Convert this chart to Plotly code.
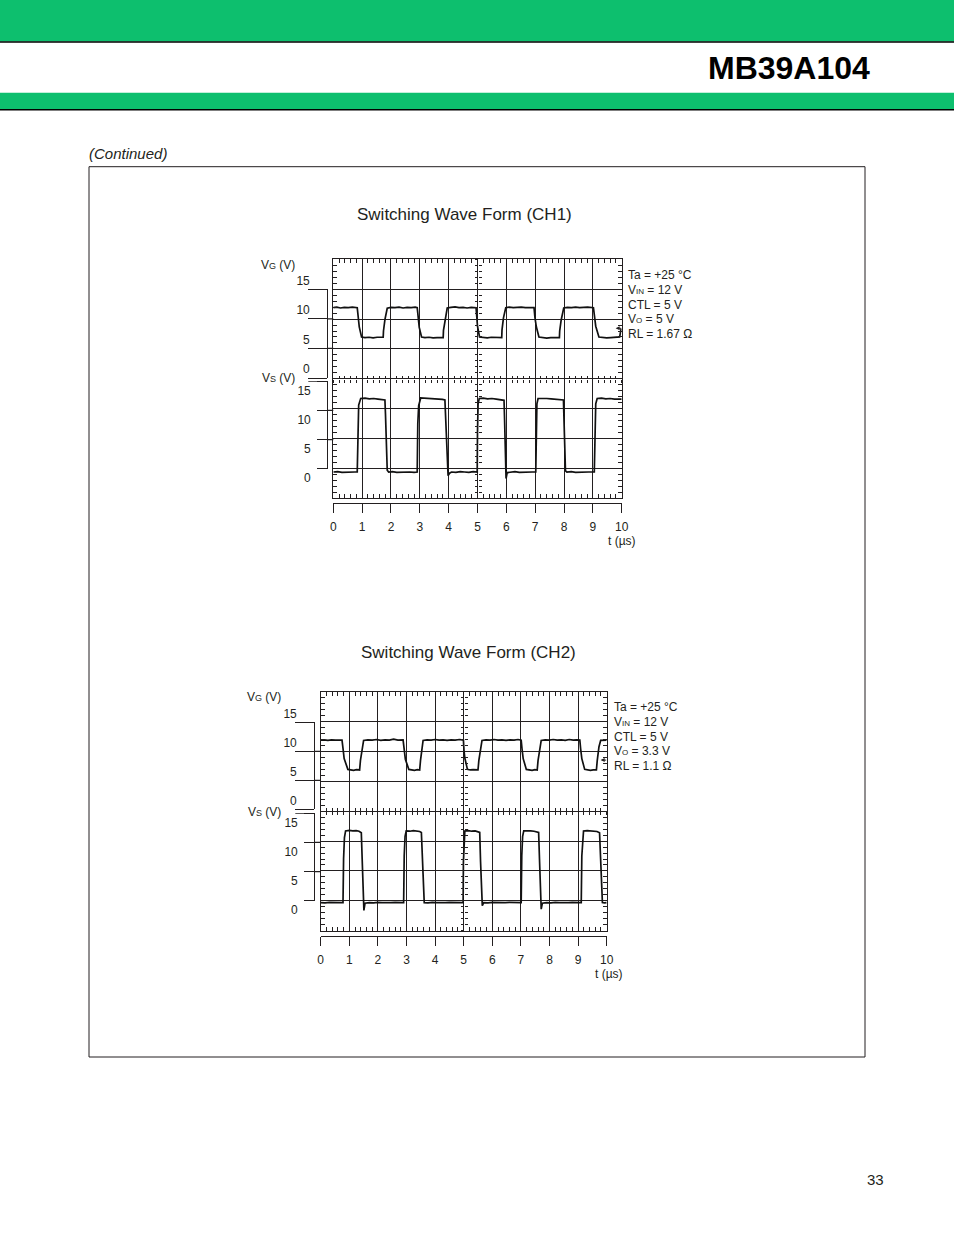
import plotly.graph_objects as go

W, H = 954, 1235
def X(px): return px / W
def Y(py): return 1 - py / H

FONT = "Liberation Sans, Arial, Helvetica, sans-serif"
INK = "#231f20"
GREEN = "#0dbf6e"

# ---------------- data ----------------
t_ticks = list(range(0, 11))
t_labels = [str(v) for v in t_ticks]
v_ticks = [0, 5, 10, 15]
v_labels = ["0", "5", "10", "15"]

vg_ch1 = [
 (0.00, 11.90), (0.12, 12.00), (0.25, 11.85), (0.38, 11.95), (0.52, 11.90), (0.66, 12.00), (0.83, 11.90),
 (0.86, 10.40), (0.90, 8.70), (0.98, 7.00), (1.10, 6.90), (1.24, 6.95), (1.38, 6.85), (1.52, 6.95), (1.66, 6.90), (1.73, 6.95),
 (1.74, 8.00), (1.79, 9.90), (1.87, 11.80), (2.00, 11.95), (2.14, 11.90), (2.28, 12.00), (2.42, 11.85), (2.56, 11.95), (2.70, 11.90), (2.84, 12.00), (2.91, 11.90),
 (2.94, 10.40), (2.98, 8.60), (3.06, 7.00), (3.18, 6.90), (3.32, 6.95), (3.46, 6.85), (3.60, 6.90), (3.74, 6.95), (3.81, 6.90),
 (3.82, 8.10), (3.87, 9.90), (3.95, 11.85), (4.08, 11.95), (4.22, 12.05), (4.36, 11.90), (4.50, 11.95), (4.64, 11.85), (4.78, 11.95), (4.95, 11.90),
 (4.97, 10.00), (5.00, 8.80), (5.07, 7.00), (5.20, 6.90), (5.34, 6.85), (5.48, 6.95), (5.62, 6.90), (5.76, 6.85), (5.84, 6.90),
 (5.85, 8.20), (5.90, 10.20), (5.98, 11.90), (6.10, 12.00), (6.24, 11.90), (6.38, 11.95), (6.52, 12.00), (6.66, 11.90), (6.80, 11.95), (6.96, 11.90),
 (6.99, 10.30), (7.04, 8.70), (7.13, 7.00), (7.26, 6.90), (7.40, 6.80), (7.54, 6.90), (7.68, 6.85), (7.84, 6.90),
 (7.85, 8.00), (7.90, 9.80), (7.99, 11.85), (8.12, 11.95), (8.26, 11.90), (8.40, 12.00), (8.54, 11.90), (8.68, 11.95), (8.82, 12.00), (9.02, 11.90),
 (9.05, 10.50), (9.10, 8.80), (9.21, 7.00), (9.34, 6.90), (9.48, 6.85), (9.62, 6.90), (9.76, 6.95), (9.90, 6.90),
 (9.93, 7.00), (9.98, 8.40),
]

vs_ch1 = [
 (0.00, -0.60), (0.15, -0.55), (0.30, -0.65), (0.45, -0.60), (0.60, -0.55), (0.75, -0.60), (0.83, -0.60),
 (0.86, 8.00), (0.88, 10.60), (0.95, 11.70), (1.10, 11.75), (1.25, 11.65), (1.40, 11.70), (1.55, 11.60), (1.70, 11.55), (1.79, 11.45),
 (1.81, 9.00), (1.84, 2.00), (1.87, -0.30), (1.92, -0.60), (2.05, -0.55), (2.20, -0.65), (2.35, -0.60), (2.50, -0.55), (2.65, -0.60), (2.80, -0.65), (2.91, -0.60),
 (2.93, 7.50), (2.96, 10.50), (3.03, 11.80), (3.18, 11.75), (3.33, 11.70), (3.48, 11.75), (3.63, 11.60), (3.78, 11.55), (3.87, 11.45),
 (3.90, 8.50), (3.95, 1.50), (3.98, -1.20), (4.03, -0.80), (4.10, -0.60), (4.25, -0.65), (4.40, -0.55), (4.55, -0.60), (4.70, -0.65), (4.85, -0.55), (4.99, -0.60),
 (5.00, 6.00), (5.02, 10.80), (5.06, 11.70), (5.20, 11.75), (5.35, 11.65), (5.50, 11.70), (5.65, 11.60), (5.80, 11.55), (5.92, 11.40),
 (5.94, 8.00), (5.97, 2.00), (5.99, -1.70), (6.03, -0.70), (6.15, -0.60), (6.30, -0.55), (6.45, -0.65), (6.60, -0.60), (6.75, -0.55), (6.90, -0.60), (7.02, -0.60),
 (7.04, 8.00), (7.06, 10.80), (7.10, 11.70), (7.25, 11.75), (7.40, 11.70), (7.55, 11.65), (7.70, 11.60), (7.85, 11.55), (7.98, 11.45),
 (8.00, 8.00), (8.03, 1.50), (8.05, -0.40), (8.10, -0.60), (8.25, -0.55), (8.40, -0.65), (8.55, -0.60), (8.70, -0.55), (8.85, -0.60), (9.05, -0.60),
 (9.07, 7.50), (9.10, 10.80), (9.15, 11.70), (9.30, 11.75), (9.45, 11.65), (9.60, 11.70), (9.75, 11.60), (9.90, 11.65), (10.00, 11.60),
]

vg_ch2 = [
 (0.00, 11.90), (0.12, 11.95), (0.25, 11.85), (0.38, 11.95), (0.52, 11.90), (0.65, 11.95), (0.745, 11.90),
 (0.78, 10.50), (0.82, 8.80), (0.95, 7.00), (1.05, 6.90), (1.15, 6.85), (1.25, 6.95), (1.36, 6.90),
 (1.39, 8.50), (1.45, 10.80), (1.50, 11.85), (1.65, 11.95), (1.80, 11.90), (1.95, 12.00), (2.10, 11.85), (2.25, 11.95), (2.40, 11.90), (2.55, 12.05), (2.70, 11.90), (2.88, 11.95),
 (2.92, 10.40), (2.96, 8.70), (3.08, 7.00), (3.18, 6.90), (3.28, 6.85), (3.38, 6.95), (3.46, 6.90),
 (3.49, 8.50), (3.54, 10.80), (3.58, 11.85), (3.72, 11.95), (3.86, 11.90), (4.00, 12.00), (4.14, 11.90), (4.28, 11.95), (4.42, 11.85), (4.56, 11.95), (4.70, 11.90), (4.85, 12.00), (4.99, 11.90),
 (5.01, 10.20), (5.04, 8.90), (5.13, 7.00), (5.23, 6.90), (5.33, 6.95), (5.43, 6.85), (5.50, 6.90),
 (5.53, 8.50), (5.59, 10.80), (5.64, 11.85), (5.78, 11.95), (5.92, 11.90), (6.06, 12.00), (6.20, 11.90), (6.34, 11.95), (6.48, 11.85), (6.62, 11.95), (6.76, 11.90), (6.90, 12.00), (7.01, 11.90),
 (7.04, 10.40), (7.08, 8.80), (7.19, 7.00), (7.29, 6.90), (7.39, 6.85), (7.49, 6.95), (7.57, 6.90),
 (7.60, 8.50), (7.66, 10.80), (7.71, 11.85), (7.85, 11.95), (7.99, 11.90), (8.13, 12.00), (8.27, 11.90), (8.41, 11.95), (8.55, 11.85), (8.69, 12.00), (8.83, 11.90), (8.95, 11.95), (9.06, 11.90),
 (9.09, 10.40), (9.13, 8.80), (9.23, 7.00), (9.33, 6.90), (9.43, 6.85), (9.53, 6.90), (9.64, 6.90),
 (9.67, 8.50), (9.73, 10.80), (9.79, 11.85), (9.90, 11.90), (10.00, 11.90),
]

vs_ch2 = [
 (0.00, -0.30), (0.15, -0.35), (0.30, -0.25), (0.45, -0.30), (0.60, -0.35), (0.78, -0.30),
 (0.80, 7.00), (0.83, 10.60), (0.87, 11.70), (1.00, 11.80), (1.12, 11.70), (1.24, 11.75), (1.34, 11.65), (1.42, 11.40),
 (1.45, 7.00), (1.49, 1.00), (1.51, -1.60), (1.55, -0.40), (1.70, -0.30), (1.85, -0.35), (2.00, -0.25), (2.15, -0.30), (2.30, -0.35), (2.45, -0.30), (2.60, -0.25), (2.75, -0.30), (2.90, -0.30),
 (2.92, 7.50), (2.95, 10.80), (2.99, 11.70), (3.12, 11.65), (3.24, 11.75), (3.36, 11.70), (3.46, 11.60), (3.52, 11.45),
 (3.56, 6.00), (3.60, 0.50), (3.62, -0.30), (3.75, -0.35), (3.90, -0.25), (4.05, -0.30), (4.20, -0.35), (4.35, -0.30), (4.50, -0.25), (4.65, -0.30), (4.80, -0.35), (4.98, -0.30),
 (4.99, 6.50), (5.01, 10.80), (5.04, 11.70), (5.16, 11.75), (5.28, 11.65), (5.40, 11.70), (5.50, 11.60), (5.56, 11.45),
 (5.59, 6.50), (5.63, 0.50), (5.65, -0.80), (5.70, -0.30), (5.85, -0.35), (6.00, -0.25), (6.15, -0.30), (6.30, -0.35), (6.45, -0.30), (6.60, -0.25), (6.75, -0.30), (6.90, -0.35), (7.01, -0.30),
 (7.03, 7.50), (7.06, 10.80), (7.10, 11.70), (7.22, 11.75), (7.34, 11.70), (7.46, 11.65), (7.55, 11.60), (7.62, 11.45),
 (7.65, 7.00), (7.69, 1.00), (7.71, -1.40), (7.75, -0.40), (7.90, -0.30), (8.05, -0.35), (8.20, -0.25), (8.35, -0.30), (8.50, -0.35), (8.65, -0.30), (8.80, -0.25), (8.95, -0.30), (9.11, -0.30),
 (9.13, 7.50), (9.16, 10.80), (9.19, 11.70), (9.32, 11.75), (9.44, 11.70), (9.56, 11.75), (9.66, 11.60), (9.75, 11.40),
 (9.78, 7.00), (9.82, 1.00), (9.85, -0.30), (9.92, -0.35), (10.00, -0.30),
]

SM = "<span style='font-size:8px'>%s</span>"
cond_ch1 = ["Ta = +25 °C", "V" + SM % "IN" + " = 12 V", "CTL = 5 V", "V" + SM % "O" + " = 5 V", "RL = 1.67 Ω"]
cond_ch2 = ["Ta = +25 °C", "V" + SM % "IN" + " = 12 V", "CTL = 5 V", "V" + SM % "O" + " = 3.3 V", "RL = 1.1 Ω"]
titles = ["Switching Wave Form (CH1)", "Switching Wave Form (CH2)"]
ground_marker_vg = [8.45, 8.55]

# ---------------- layout geometry (pixels) ----------------
charts = [
    dict(vg=vg_ch1, vs=vs_ch1, cond=cond_ch1, title=titles[0], gm=ground_marker_vg[0],
         L=333.3, R=621.7, T=259.3, B=498.3, br=327.3,
         vg_top=289.3, vg_bot=378.0, vs_top=381.3, vs_bot=468.7, xax=503.3,
         cond_x=626, cond_y=275, title_x=464, title_y=215,
         vgt=(297, 265), vst=(297, 378), tunit=(622, 541)),
    dict(vg=vg_ch2, vs=vs_ch2, cond=cond_ch2, title=titles[1], gm=ground_marker_vg[1],
         L=320.7, R=606.7, T=691.7, B=930.7, br=314.3,
         vg_top=722.3, vg_bot=809.3, vs_top=813.3, vs_bot=900.7, xax=936.0,
         cond_x=612, cond_y=707, title_x=468, title_y=652,
         vgt=(283, 697), vst=(283, 811.7), tunit=(609, 974)),
]

fig = go.Figure()
layout = {}
shapes = []
annotations = []

def axname(kind, n):
    return f"{kind}axis" if n == 1 else f"{kind}axis{n}"

def axref(kind, n):
    return kind if n == 1 else f"{kind}{n}"

def dummy(xr, yr):
    fig.add_trace(go.Scatter(x=[None], y=[None], xaxis=xr, yaxis=yr, mode="lines",
                             showlegend=False, hoverinfo="skip"))

TF = dict(family=FONT, size=12, color=INK)

for i, c in enumerate(charts):
    xm, xb, xc1, xc2, xd = [5 * i + k for k in range(1, 6)]
    yg, ys, yc1, yc2, ybg, ybs = [6 * i + k for k in range(1, 7)]
    L, R, T, B = c["L"], c["R"], c["T"], c["B"]
    cx, cy = (L + R) / 2, (T + B) / 2

    layout[axname("x", xm)] = dict(domain=[X(L), X(R)], range=[0, 10], anchor=axref("y", yg),
        showline=True, mirror="ticks", linecolor=INK, linewidth=1.3,
        ticks="inside", ticklen=4, tickwidth=1, tickcolor=INK, dtick=1, tick0=0,
        showgrid=True, gridcolor=INK, gridwidth=1.2, showticklabels=False, zeroline=False,
        minor=dict(ticks="inside", ticklen=4, tickwidth=1, tickcolor=INK, dtick=0.2, tick0=0, showgrid=False),
        automargin=False, fixedrange=True)
    layout[axname("y", yg)] = dict(domain=[Y(B), Y(T)], range=[-20, 20], anchor=axref("x", xm),
        showline=True, mirror="ticks", linecolor=INK, linewidth=1.3,
        ticks="inside", ticklen=4, tickwidth=1, tickcolor=INK, dtick=5, tick0=0,
        showgrid=True, gridcolor=INK, gridwidth=1.2, showticklabels=False, zeroline=False,
        minor=dict(ticks="inside", ticklen=4, tickwidth=1, tickcolor=INK, dtick=1, tick0=0, showgrid=False),
        automargin=False, fixedrange=True)
    layout[axname("y", ys)] = dict(overlaying=axref("y", yg), range=[-5, 35], visible=False,
                                   automargin=False, fixedrange=True)

    # labelled time axis below the screen
    layout[axname("x", xb)] = dict(overlaying=axref("x", xm), anchor="free", position=Y(c["xax"]),
        range=[0, 10], showline=True, linecolor=INK, linewidth=1.2,
        ticks="outside", ticklen=9, tickwidth=1.2, tickcolor=INK,
        tickvals=t_ticks, ticktext=t_labels, tickfont=TF, ticklabelstandoff=3,
        showgrid=False, zeroline=False, automargin=False, fixedrange=True)
    dummy(axref("x", xb), axref("y", yg))
    # centre graticule ticks (horizontal)
    for n, tk in ((xc1, "outside"), (xc2, "inside")):
        layout[axname("x", n)] = dict(overlaying=axref("x", xm), anchor="free", position=Y(cy),
            range=[0, 10], showline=False, ticks=tk, ticklen=3, tickwidth=1, tickcolor=INK,
            dtick=0.2, tick0=0, showticklabels=False, showgrid=False, zeroline=False,
            automargin=False, fixedrange=True)
        dummy(axref("x", n), axref("y", yg))
    # centre graticule ticks (vertical)
    for n, tk in ((yc1, "outside"), (yc2, "inside")):
        layout[axname("y", n)] = dict(overlaying=axref("y", yg), anchor="free", position=X(cx),
            range=[-20, 20], showline=False, ticks=tk, ticklen=3, tickwidth=1, tickcolor=INK,
            dtick=1, tick0=0, showticklabels=False, showgrid=False, zeroline=False,
            automargin=False, fixedrange=True)
        dummy(axref("x", xm), axref("y", n))

    # bracket scales on the left
    layout[axname("x", xd)] = dict(domain=[X(L), X(R)], range=[0, 1], visible=False,
                                   anchor=axref("y", ybg), automargin=False, fixedrange=True)
    layout[axname("y", ybg)] = dict(domain=[Y(c["vg_bot"]), Y(c["vg_top"])], range=[0, 15],
        anchor="free", position=X(c["br"]), showline=True, linecolor=INK, linewidth=1.2,
        ticks="outside", ticklen=19, tickwidth=1.2, tickcolor=INK,
        tickvals=v_ticks, ticktext=v_labels, ticklabelshift=-9, ticklabelstandoff=-4,
        tickfont=TF, showgrid=False, zeroline=False, automargin=False, fixedrange=True)
    layout[axname("y", ybs)] = dict(domain=[Y(c["vs_bot"]), Y(c["vs_top"])], range=[0, 15],
        anchor="free", position=X(c["br"]), showline=True, linecolor=INK, linewidth=1.2,
        ticks="outside", ticklen=10, tickwidth=1.2, tickcolor=INK,
        tickvals=v_ticks, ticktext=v_labels, ticklabelshift=9, ticklabelstandoff=4,
        tickfont=TF, showgrid=False, zeroline=False, automargin=False, fixedrange=True)
    dummy(axref("x", xd), axref("y", ybg))
    dummy(axref("x", xd), axref("y", ybs))

    # bridge the bracket ticks at 5 and 10 to the screen edge
    for v in v_ticks[1:3]:
        for yr in (ybg, ybs):
            shapes.append(dict(type="line", xref="paper", yref=axref("y", yr),
                               x0=X(c["br"]), x1=X(L), y0=v, y1=v, line=dict(color=INK, width=1.2)))
    shapes.append(dict(type="line", xref="paper", yref=axref("y", ybs),
                       x0=X(c["br"] - 19), x1=X(c["br"] - 10), y0=v_ticks[-1], y1=v_ticks[-1],
                       line=dict(color=INK, width=1.2)))

    # waveforms
    tg, vgv = zip(*c["vg"])
    tsv, vsv = zip(*c["vs"])
    fig.add_trace(go.Scatter(x=list(tg), y=list(vgv), xaxis=axref("x", xm), yaxis=axref("y", yg),
                             mode="lines", line=dict(color="#111111", width=1.7),
                             showlegend=False, hoverinfo="skip"))
    fig.add_trace(go.Scatter(x=list(tsv), y=list(vsv), xaxis=axref("x", xm), yaxis=axref("y", ys),
                             mode="lines", line=dict(color="#111111", width=1.7),
                             showlegend=False, hoverinfo="skip"))

    # ground-level marker
    annotations.append(dict(x=10, y=c["gm"], xref=axref("x", xm), yref=axref("y", yg), text="",
                            showarrow=True, arrowhead=2, arrowsize=0.8, arrowwidth=1, arrowcolor=INK,
                            ax=7, ay=0, xshift=-6))

    # texts
    annotations.append(dict(x=X(c["title_x"]), y=Y(c["title_y"]), xref="paper", yref="paper",
                            text=c["title"], showarrow=False, xanchor="center", yanchor="middle",
                            font=dict(family=FONT, size=17, color=INK)))
    for j, line in enumerate(c["cond"]):
        annotations.append(dict(x=X(c["cond_x"]), y=Y(c["cond_y"] + j * 14.8), xref="paper", yref="paper",
                                text=line, showarrow=False, xanchor="left", yanchor="middle", font=TF))
    annotations.append(dict(x=X(c["vgt"][0]), y=Y(c["vgt"][1]), xref="paper", yref="paper",
                            text="V<span style='font-size:9px'>G</span> (V)", showarrow=False,
                            xanchor="right", yanchor="middle", font=TF))
    annotations.append(dict(x=X(c["vst"][0]), y=Y(c["vst"][1]), xref="paper", yref="paper",
                            text="V<span style='font-size:9px'>S</span> (V)", showarrow=False,
                            xanchor="right", yanchor="middle", font=TF))
    annotations.append(dict(x=X(c["tunit"][0]), y=Y(c["tunit"][1]), xref="paper", yref="paper",
                            text="t (µs)", showarrow=False, xanchor="center", yanchor="middle", font=TF))

# ---------------- page furniture ----------------
shapes += [
    dict(type="rect", xref="paper", yref="paper", x0=0, x1=1, y0=Y(41.5), y1=1,
         fillcolor=GREEN, line=dict(width=0), layer="below"),
    dict(type="line", xref="paper", yref="paper", x0=0, x1=1, y0=Y(42), y1=Y(42),
         line=dict(color="#000000", width=1.5)),
    dict(type="rect", xref="paper", yref="paper", x0=0, x1=1, y0=Y(109.5), y1=Y(92.7),
         fillcolor=GREEN, line=dict(width=0), layer="below"),
    dict(type="line", xref="paper", yref="paper", x0=0, x1=1, y0=Y(109.8), y1=Y(109.8),
         line=dict(color="#000000", width=1.5)),
    dict(type="rect", xref="paper", yref="paper", x0=X(89), x1=X(865), y0=Y(1057), y1=Y(166.7),
         line=dict(color=INK, width=1), fillcolor="rgba(0,0,0,0)"),
]
annotations += [
    dict(x=X(872), y=Y(68), xref="paper", yref="paper", text="<b>MB39A104</b>", showarrow=False,
         xanchor="right", yanchor="middle", font=dict(family=FONT, size=32, color="#000000")),
    dict(x=X(87), y=Y(154), xref="paper", yref="paper", text="<i>(Continued)</i>", showarrow=False,
         xanchor="left", yanchor="middle", font=dict(family=FONT, size=15, color=INK)),
    dict(x=X(886), y=Y(1179), xref="paper", yref="paper", text="33", showarrow=False,
         xanchor="right", yanchor="middle", font=dict(family=FONT, size=15, color=INK)),
]

fig.update_layout(template="none", width=W, height=H,
                  margin=dict(l=0, r=0, t=0, b=0, pad=0, autoexpand=False),
                  paper_bgcolor="white", plot_bgcolor="rgba(0,0,0,0)", showlegend=False,
                  font=dict(family=FONT, color=INK), shapes=shapes, annotations=annotations, **layout)

fig.write_html("out.html", config={"displayModeBar": False},
               post_script="document.body.style.margin='0';document.body.style.overflow='hidden';")
